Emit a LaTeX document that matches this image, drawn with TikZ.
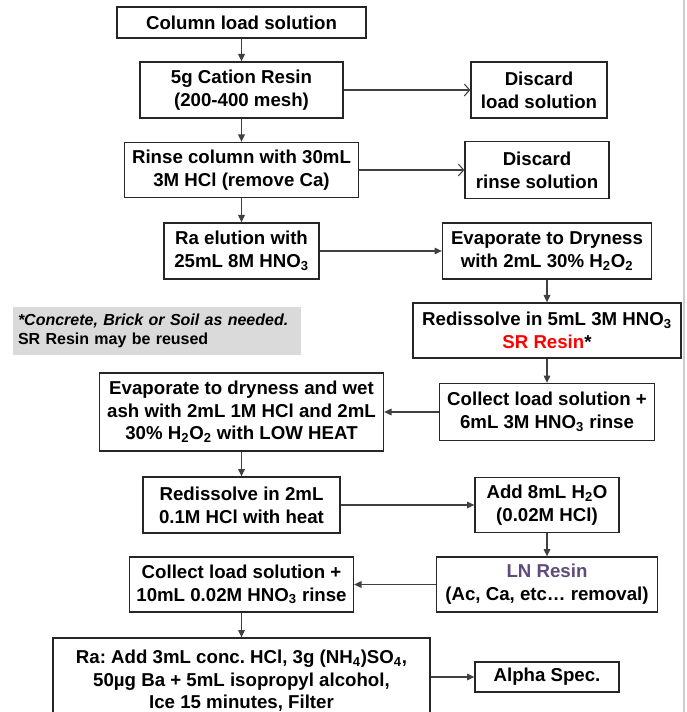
\documentclass[tikz,border=0pt]{standalone}
\usepackage{fontspec}
\setmainfont{Liberation Sans}
\usetikzlibrary{arrows.meta}
\definecolor{lnpurple}{HTML}{604A7B}
\definecolor{notegray}{HTML}{DADADA}
\definecolor{linegray}{HTML}{404040}
\frenchspacing

\begin{document}
\begin{tikzpicture}[x=0.75pt,y=-0.75pt,
  boxsize/.style 2 args={minimum width=#1*0.75pt,minimum height=#2*0.75pt},
  stepbox/.style={draw=black!85,line width=1pt,align=center,inner sep=0pt,
    font=\fontsize{14}{17}\selectfont\bfseries},
  flow/.style={draw=linegray,line width=0.8pt,-{Triangle[length=5.5pt,width=5pt]}},
  openflow/.style={draw=linegray,line width=0.8pt,-{Straight Barb[length=4pt,width=9pt]}}]
\useasboundingbox (0,0) rectangle (686,712);
\draw[gray!40,line width=0.8pt] (684,0)--(684,712);

% left column
\node[stepbox,boxsize={249}{31}] (load) at (241.5,22.5) {Column load solution};
\node[stepbox,boxsize={203}{56}] (cation) at (241.5,90) {5g Cation Resin\\(200-400 mesh)};
\node[stepbox,boxsize={234}{55}] (rinse) at (241.5,170) {Rinse column with 30mL\\3M HCl (remove Ca)};
\node[stepbox,boxsize={155}{56}] (elution) at (241.5,251) {Ra elution with\\25mL 8M HNO\textsubscript{3}};
\node[stepbox,boxsize={284}{78}] (wetash) at (241.5,412) {Evaporate to dryness and wet\\ash with 2mL 1M HCl and 2mL\\30\% H\textsubscript{2}O\textsubscript{2} with LOW HEAT};
\node[stepbox,boxsize={197}{56}] (redissolve) at (241.5,505) {Redissolve in 2mL\\0.1M HCl with heat};
\node[stepbox,boxsize={224}{55}] (collectln) at (241.5,584.5) {Collect load solution +\\10mL 0.02M HNO\textsubscript{3} rinse};
\node[stepbox,boxsize={377}{86}] (precip) at (241.5,681) {Ra: Add 3mL conc. HCl, 3g (NH\textsubscript{4})SO\textsubscript{4},\\50µg Ba + 5mL isopropyl alcohol,\\Ice 15 minutes, Filter};

% right column
\node[stepbox,boxsize={136}{56}] (discload) at (539,90) {Discard\\load solution};
\node[stepbox,boxsize={144}{57}] (discrinse) at (537,170) {Discard\\rinse solution};
\node[stepbox,boxsize={209}{56}] (evapdry) at (547,251) {Evaporate to Dryness\\with 2mL 30\% H\textsubscript{2}O\textsubscript{2}};
\node[stepbox,boxsize={268}{55}] (srload) at (547,330.5) {Redissolve in 5mL 3M HNO\textsubscript{3}\\\textcolor{red}{SR Resin}*};
\node[stepbox,boxsize={215}{57}] (collectsr) at (547,412) {Collect load solution +\\6mL 3M HNO\textsubscript{3} rinse};
\node[stepbox,boxsize={144}{55}] (dilute) at (547,505) {Add 8mL H\textsubscript{2}O\\(0.02M HCl)};
\node[stepbox,boxsize={221}{55}] (lnresin) at (547,584.5) {\textcolor{lnpurple}{LN Resin}\\(Ac, Ca, etc… removal)};
\node[stepbox,boxsize={144}{30}] (alpha) at (547,677) {Alpha Spec.};

% note
\node[fill=notegray,boxsize={288}{48},text width=278*0.75pt,inner xsep=5*0.75pt,align=left,
  font=\fontsize{12}{14.5}\selectfont\bfseries] (note) at (157,331)
  {\textit{*Concrete, Brick or Soil as needed.}\\SR Resin may be reused};

% connectors
\draw[flow] (load) -- (cation);
\draw[flow] (cation) -- (rinse);
\draw[flow] (rinse) -- (elution);
\draw[openflow] (cation) -- (discload);
\draw[openflow] (rinse) -- (discrinse);
\draw[flow] (elution) -- (evapdry);
\draw[flow] (evapdry) -- (srload);
\draw[flow] (srload) -- (collectsr);
\draw[flow] (collectsr) -- (wetash);
\draw[flow] (wetash) -- (redissolve);
\draw[flow] (redissolve) -- (dilute);
\draw[flow] (dilute) -- (lnresin);
\draw[flow] (lnresin) -- (collectln);
\draw[flow] (collectln) -- (precip);
\draw[flow] (alpha.west -| precip.east) -- (alpha.west);
\end{tikzpicture}
\end{document}
